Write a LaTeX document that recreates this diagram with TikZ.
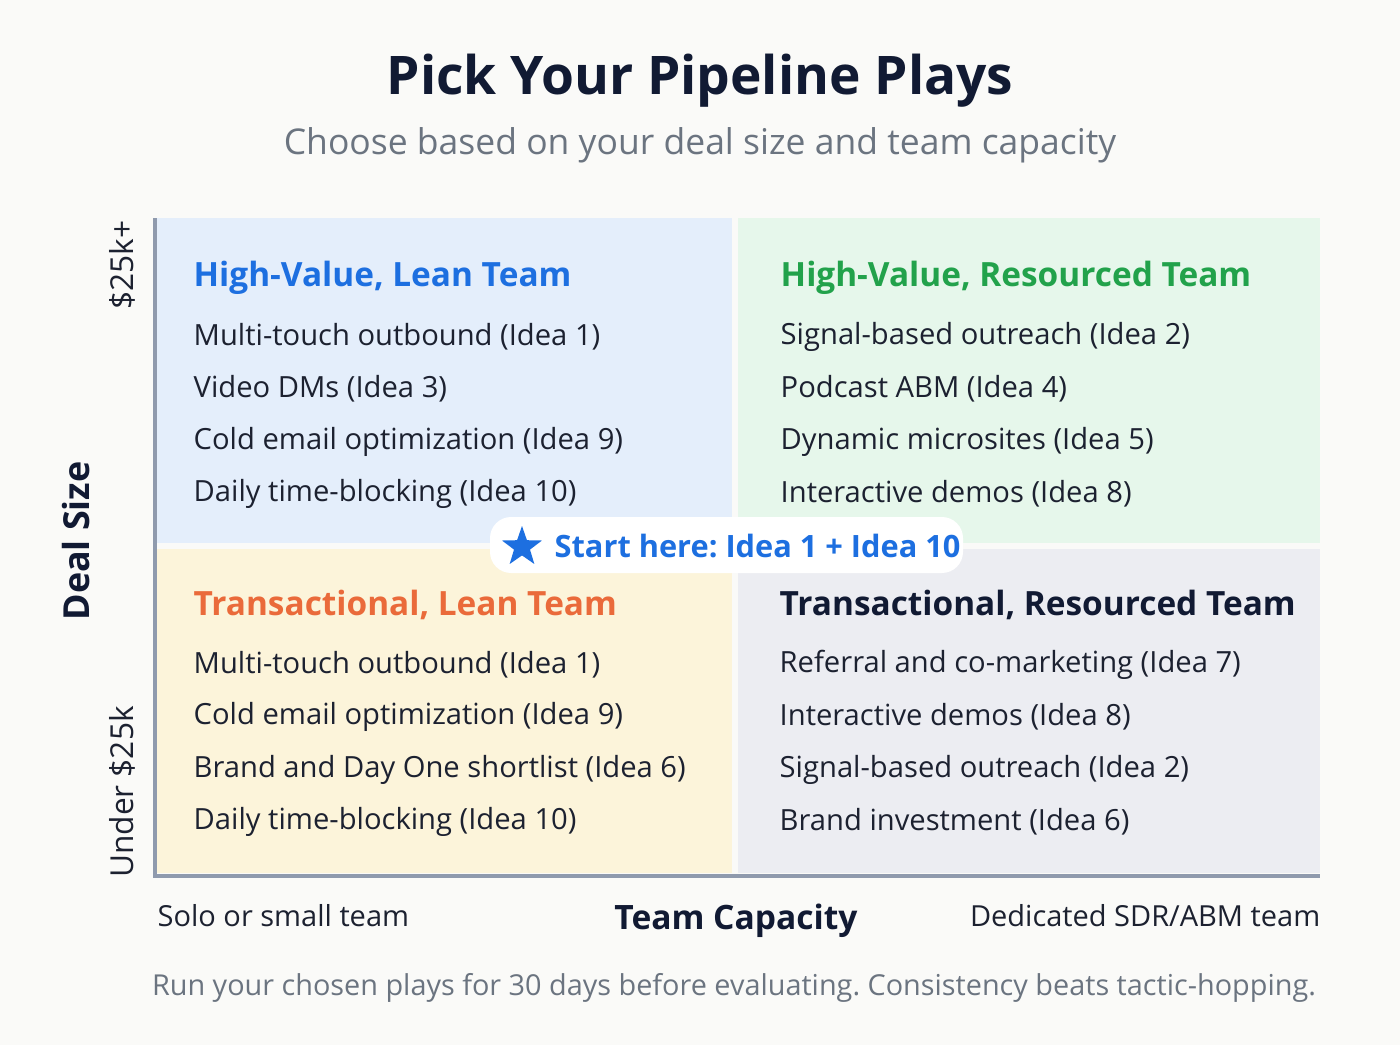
\documentclass[tikz,border=0pt]{standalone}
\usepackage{fontspec}
\setmainfont{Open Sans}
\usepackage{xcolor}
\definecolor{pageback}{HTML}{FAFAF8}
\definecolor{titleink}{HTML}{111A33}
\definecolor{subink}{HTML}{6B7480}
\definecolor{itemink}{HTML}{1C2130}
\definecolor{axisgray}{HTML}{8F9AAD}
\definecolor{leanblue}{HTML}{E4EEFB}
\definecolor{resgreen}{HTML}{E6F7EB}
\definecolor{transyellow}{HTML}{FCF4DA}
\definecolor{resgray}{HTML}{ECEDF2}
\definecolor{headblue}{HTML}{1D6FE0}
\definecolor{headgreen}{HTML}{22A24B}
\definecolor{headorange}{HTML}{EA6A3A}
\usetikzlibrary{positioning}
\usetikzlibrary{shapes.geometric}
\tikzset{>=stealth}
\tikzset{
  head/.style={anchor=west, inner sep=0pt, font=\fontsize{9.5}{11}\selectfont\bfseries},
  play/.style={anchor=west, inner sep=0pt, text=itemink, font=\fontsize{8.3}{10}\selectfont},
  axislabel/.style={inner sep=0pt, text=itemink, font=\fontsize{8.25}{10}\selectfont},
  axistitle/.style={inner sep=0pt, text=titleink, font=\fontsize{9.55}{11}\selectfont\bfseries},
}
\frenchspacing

\begin{document}
\begin{tikzpicture}
\fill [pageback] (0,0) rectangle (14,-10.45);
\useasboundingbox (0,0) rectangle (14,-10.45);

% title
\node [text=titleink, font=\fontsize{15.15}{18}\selectfont\bfseries] (title) at (7.00,-0.81) {Pick Your Pipeline Plays};
\node [text=subink, font=\fontsize{10.1}{12}\selectfont] (subtitle) at (7.00,-1.45) {Choose based on your deal size and team capacity};

% quadrants
\fill [leanblue] (1.57,-2.18) rectangle (7.32,-5.43);
\fill [resgreen] (7.38,-2.18) rectangle (13.20,-5.43);
\fill [transyellow] (1.57,-5.49) rectangle (7.32,-8.73);
\fill [resgray] (7.38,-5.49) rectangle (13.20,-8.73);

% axes
\coordinate (ytop) at (1.55,-2.18);
\coordinate (origin) at (1.55,-8.76);
\coordinate (xend) at (13.20,-8.76);
\draw [axisgray, line width=1.2pt] (ytop) -- (origin) -- (xend);

% high-value, lean
\node [head, text=headblue] (hvlean) at (1.93,-2.78) {High-Value, Lean Team};
\node [play] (hvlean1) at (1.93,-3.37) {Multi-touch outbound (Idea 1)};
\node [play] (hvlean2) at (1.93,-3.89) {Video DMs (Idea 3)};
\node [play] (hvlean3) at (1.93,-4.42) {Cold email optimization (Idea 9)};
\node [play] (hvlean4) at (1.93,-4.94) {Daily time-blocking (Idea 10)};

% high-value, resourced
\node [head, text=headgreen] (hvres) at (7.80,-2.78) {High-Value, Resourced Team};
\node [play] (hvres1) at (7.80,-3.37) {Signal-based outreach (Idea 2)};
\node [play] (hvres2) at (7.80,-3.89) {Podcast ABM (Idea 4)};
\node [play] (hvres3) at (7.80,-4.42) {Dynamic microsites (Idea 5)};
\node [play] (hvres4) at (7.80,-4.94) {Interactive demos (Idea 8)};

% transactional, lean
\node [head, text=headorange] (trlean) at (1.93,-6.05) {Transactional, Lean Team};
\node [play] (trlean1) at (1.93,-6.65) {Multi-touch outbound (Idea 1)};
\node [play] (trlean2) at (1.93,-7.17) {Cold email optimization (Idea 9)};
\node [play] (trlean3) at (1.93,-7.70) {Brand and Day One shortlist (Idea 6)};
\node [play] (trlean4) at (1.93,-8.22) {Daily time-blocking (Idea 10)};

% transactional, resourced
\node [head, text=titleink] (trres) at (7.79,-6.05) {Transactional, Resourced Team};
\node [play] (trres1) at (7.79,-6.65) {Referral and co-marketing (Idea 7)};
\node [play] (trres2) at (7.79,-7.17) {Interactive demos (Idea 8)};
\node [play] (trres3) at (7.79,-7.70) {Signal-based outreach (Idea 2)};
\node [play] (trres4) at (7.79,-8.22) {Brand investment (Idea 6)};

% start badge
\node [fill=white, rounded corners=6pt, minimum width=4.73cm, minimum height=0.56cm, inner sep=0pt] (badge) at (7.265,-5.45) {};
\node [star, star points=5, star point ratio=2.5, fill=headblue, minimum size=0.42cm, inner sep=0pt] (startip) at (5.22,-5.47) {};
\node [anchor=west, inner sep=0pt, text=headblue, font=\fontsize{8.75}{11}\selectfont\bfseries] (starttext) at (5.54,-5.465) {Start here: Idea 1 + Idea 10};

% axis labels
\node [axislabel, rotate=90, font=\fontsize{9}{11}\selectfont] (ytoplabel) at (1.22,-2.65) {\$25k+};
\node [axislabel, rotate=90, font=\fontsize{9}{11}\selectfont] (ybotlabel) at (1.22,-7.92) {Under \$25k};
\node [axistitle, rotate=90, font=\fontsize{10.2}{12}\selectfont\bfseries] (ytitle) at (0.76,-5.41) {Deal Size};
\node [axislabel, anchor=west] (xleftlabel) at (1.57,-9.16) {Solo or small team};
\node [axistitle] (xtitle) at (7.36,-9.21) {Team Capacity};
\node [axislabel, anchor=east] (xrightlabel) at (13.21,-9.16) {Dedicated SDR/ABM team};

% footer
\node [text=subink, font=\fontsize{8.2}{10}\selectfont] (footer) at (7.34,-9.88) {Run your chosen plays for 30 days before evaluating. Consistency beats tactic-hopping.};
\end{tikzpicture}
\end{document}
